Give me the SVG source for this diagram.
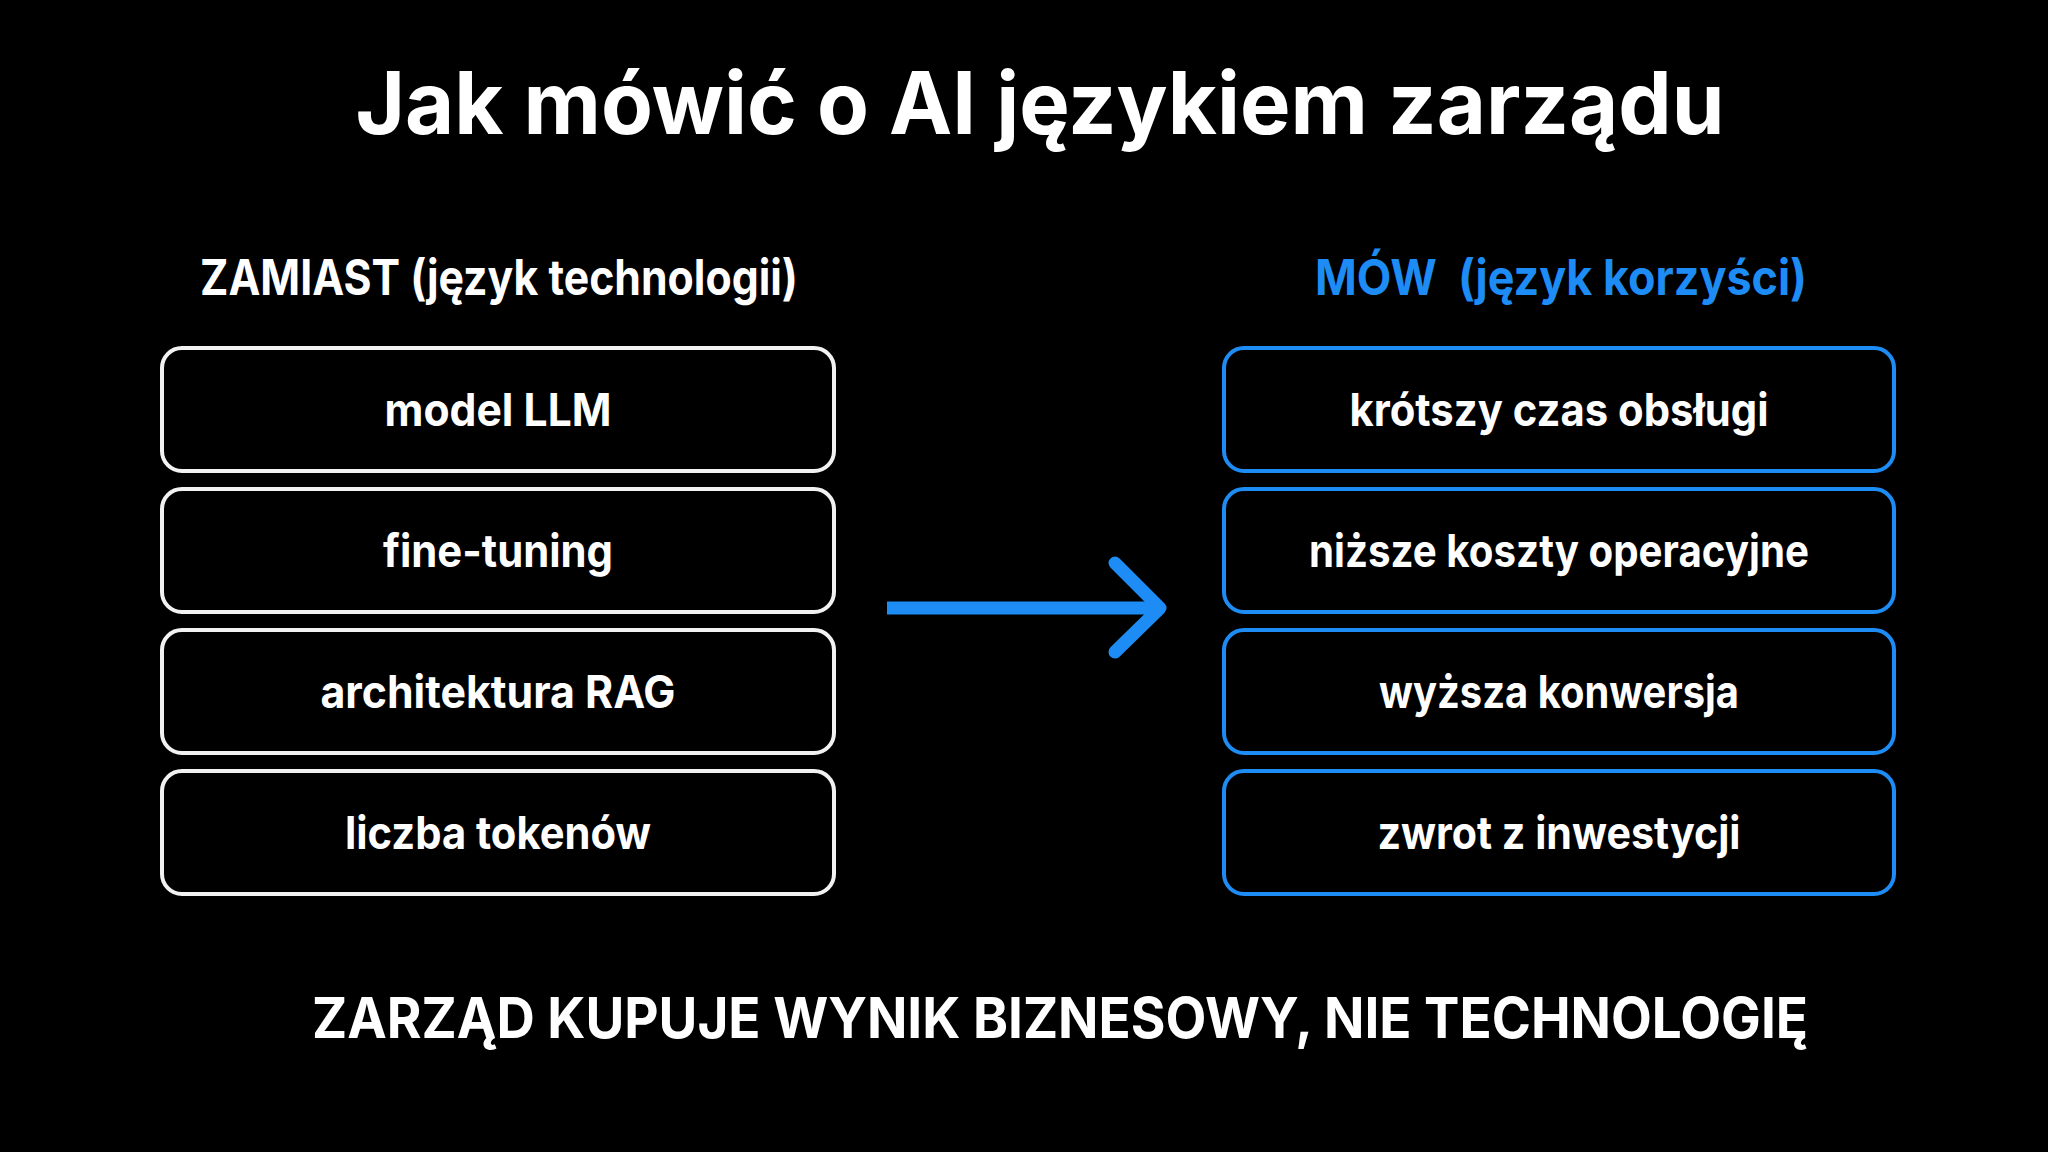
<svg xmlns="http://www.w3.org/2000/svg" width="2048" height="1152" viewBox="0 0 2048 1152">
<style>
text{font-family:Inter,"Noto Sans",sans-serif;text-anchor:middle;fill:#fff}
.title{font-size:86px;font-weight:700}
.head{font-size:49px;font-weight:700}
.blue{fill:#1e8cf5}
.lbl{font-size:45px;font-weight:700}
.foot{font-size:57px;font-weight:700}
.bw{fill:#000;stroke:#f2f2f2;stroke-width:4}
.bb{fill:#000;stroke:#1e8cf5;stroke-width:4}
</style>
<rect width="2048" height="1152" fill="#000"/>
<text class="title" x="1040" y="134" textLength="1369" lengthAdjust="spacingAndGlyphs">Jak mówić o AI językiem zarządu</text>
<text class="head" x="499" y="295" textLength="598" lengthAdjust="spacingAndGlyphs">ZAMIAST (język technologii)</text>
<text class="head blue" x="1561" y="295" textLength="492" lengthAdjust="spacingAndGlyphs" xml:space="preserve">MÓW  (język korzyści)</text>
<g id="n1"><rect class="bw" x="162" y="348" width="672" height="123" rx="20"/><text class="lbl" x="498" y="426" textLength="227" lengthAdjust="spacingAndGlyphs">model LLM</text></g>
<g id="n2"><rect class="bw" x="162" y="489" width="672" height="123" rx="20"/><text class="lbl" x="498" y="567" textLength="230" lengthAdjust="spacingAndGlyphs">fine-tuning</text></g>
<g id="n3"><rect class="bw" x="162" y="630" width="672" height="123" rx="20"/><text class="lbl" x="498" y="708" textLength="355" lengthAdjust="spacingAndGlyphs">architektura RAG</text></g>
<g id="n4"><rect class="bw" x="162" y="771" width="672" height="123" rx="20"/><text class="lbl" x="498" y="849" textLength="306" lengthAdjust="spacingAndGlyphs">liczba tokenów</text></g>
<g id="m1"><rect class="bb" x="1224" y="348" width="670" height="123" rx="20"/><text class="lbl" x="1559" y="426" textLength="419" lengthAdjust="spacingAndGlyphs">krótszy czas obsługi</text></g>
<g id="m2"><rect class="bb" x="1224" y="489" width="670" height="123" rx="20"/><text class="lbl" x="1559" y="567" textLength="500" lengthAdjust="spacingAndGlyphs">niższe koszty operacyjne</text></g>
<g id="m3"><rect class="bb" x="1224" y="630" width="670" height="123" rx="20"/><text class="lbl" x="1559" y="708" textLength="360" lengthAdjust="spacingAndGlyphs">wyższa konwersja</text></g>
<g id="m4"><rect class="bb" x="1224" y="771" width="670" height="123" rx="20"/><text class="lbl" x="1559" y="849" textLength="363" lengthAdjust="spacingAndGlyphs">zwrot z inwestycji</text></g>
<g id="connectors" fill="none" stroke="#1e8cf5" stroke-width="13">
<line x1="887" y1="608" x2="1160" y2="608"/>
<polyline points="1115,563 1160,608 1115,652" stroke-linecap="round" stroke-linejoin="round"/>
</g>
<text class="foot" x="1060" y="1038" textLength="1496" lengthAdjust="spacingAndGlyphs">ZARZĄD KUPUJE WYNIK BIZNESOWY, NIE TECHNOLOGIĘ</text>
</svg>
